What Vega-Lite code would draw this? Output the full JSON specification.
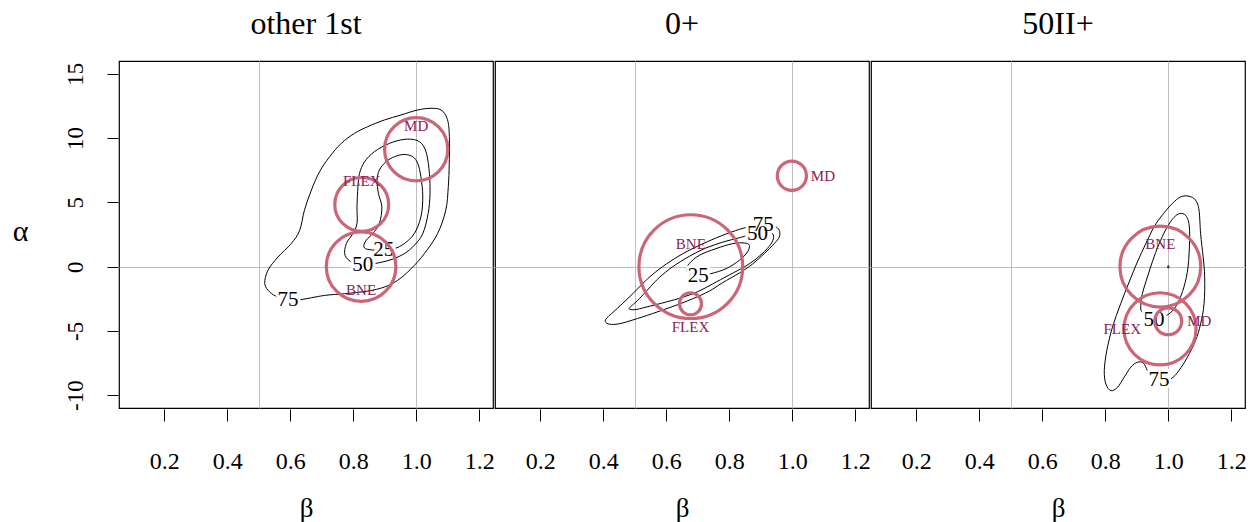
{
  "$schema": "https://vega.github.io/schema/vega-lite/v6.json",
  "background": "white",
  "padding": {"left": 12, "top": 8, "right": 5, "bottom": 3},
  "data": {
    "values": [
      {"kind": "contour", "panel": "other 1st", "level": 75, "seq": 1, "beta": 0.593, "alpha": -2.57},
      {"kind": "contour", "panel": "other 1st", "level": 75, "seq": 2, "beta": 0.630, "alpha": -2.58},
      {"kind": "contour", "panel": "other 1st", "level": 75, "seq": 3, "beta": 0.709, "alpha": -2.24},
      {"kind": "contour", "panel": "other 1st", "level": 75, "seq": 4, "beta": 0.772, "alpha": -2.11},
      {"kind": "contour", "panel": "other 1st", "level": 75, "seq": 5, "beta": 0.846, "alpha": -1.90},
      {"kind": "contour", "panel": "other 1st", "level": 75, "seq": 6, "beta": 0.899, "alpha": -1.59},
      {"kind": "contour", "panel": "other 1st", "level": 75, "seq": 7, "beta": 0.941, "alpha": -1.07},
      {"kind": "contour", "panel": "other 1st", "level": 75, "seq": 8, "beta": 0.984, "alpha": -0.16},
      {"kind": "contour", "panel": "other 1st", "level": 75, "seq": 9, "beta": 1.026, "alpha": 1.01},
      {"kind": "contour", "panel": "other 1st", "level": 75, "seq": 10, "beta": 1.068, "alpha": 2.57},
      {"kind": "contour", "panel": "other 1st", "level": 75, "seq": 11, "beta": 1.094, "alpha": 4.39},
      {"kind": "contour", "panel": "other 1st", "level": 75, "seq": 12, "beta": 1.102, "alpha": 6.21},
      {"kind": "contour", "panel": "other 1st", "level": 75, "seq": 13, "beta": 1.105, "alpha": 8.03},
      {"kind": "contour", "panel": "other 1st", "level": 75, "seq": 14, "beta": 1.105, "alpha": 10.37},
      {"kind": "contour", "panel": "other 1st", "level": 75, "seq": 15, "beta": 1.098, "alpha": 11.54},
      {"kind": "contour", "panel": "other 1st", "level": 75, "seq": 16, "beta": 1.079, "alpha": 12.19},
      {"kind": "contour", "panel": "other 1st", "level": 75, "seq": 17, "beta": 1.047, "alpha": 12.32},
      {"kind": "contour", "panel": "other 1st", "level": 75, "seq": 18, "beta": 1.005, "alpha": 12.19},
      {"kind": "contour", "panel": "other 1st", "level": 75, "seq": 19, "beta": 0.952, "alpha": 11.80},
      {"kind": "contour", "panel": "other 1st", "level": 75, "seq": 20, "beta": 0.899, "alpha": 11.41},
      {"kind": "contour", "panel": "other 1st", "level": 75, "seq": 21, "beta": 0.846, "alpha": 10.89},
      {"kind": "contour", "panel": "other 1st", "level": 75, "seq": 22, "beta": 0.804, "alpha": 10.37},
      {"kind": "contour", "panel": "other 1st", "level": 75, "seq": 23, "beta": 0.762, "alpha": 9.59},
      {"kind": "contour", "panel": "other 1st", "level": 75, "seq": 24, "beta": 0.725, "alpha": 8.55},
      {"kind": "contour", "panel": "other 1st", "level": 75, "seq": 25, "beta": 0.693, "alpha": 7.38},
      {"kind": "contour", "panel": "other 1st", "level": 75, "seq": 26, "beta": 0.667, "alpha": 5.95},
      {"kind": "contour", "panel": "other 1st", "level": 75, "seq": 27, "beta": 0.645, "alpha": 4.39},
      {"kind": "contour", "panel": "other 1st", "level": 75, "seq": 28, "beta": 0.630, "alpha": 2.83},
      {"kind": "contour", "panel": "other 1st", "level": 75, "seq": 29, "beta": 0.603, "alpha": 1.79},
      {"kind": "contour", "panel": "other 1st", "level": 75, "seq": 30, "beta": 0.561, "alpha": 0.75},
      {"kind": "contour", "panel": "other 1st", "level": 75, "seq": 31, "beta": 0.529, "alpha": -0.29},
      {"kind": "contour", "panel": "other 1st", "level": 75, "seq": 32, "beta": 0.519, "alpha": -1.33},
      {"kind": "contour", "panel": "other 1st", "level": 75, "seq": 33, "beta": 0.535, "alpha": -1.98},
      {"kind": "contour", "panel": "other 1st", "level": 75, "seq": 34, "beta": 0.561, "alpha": -2.37},

      {"kind": "contour", "panel": "other 1st", "level": 50, "seq": 1, "beta": 0.830, "alpha": 0.15},
      {"kind": "contour", "panel": "other 1st", "level": 50, "seq": 2, "beta": 0.867, "alpha": 0.23},
      {"kind": "contour", "panel": "other 1st", "level": 50, "seq": 3, "beta": 0.920, "alpha": 0.54},
      {"kind": "contour", "panel": "other 1st", "level": 50, "seq": 4, "beta": 0.962, "alpha": 1.01},
      {"kind": "contour", "panel": "other 1st", "level": 50, "seq": 5, "beta": 0.994, "alpha": 1.66},
      {"kind": "contour", "panel": "other 1st", "level": 50, "seq": 6, "beta": 1.021, "alpha": 2.57},
      {"kind": "contour", "panel": "other 1st", "level": 50, "seq": 7, "beta": 1.038, "alpha": 4.13},
      {"kind": "contour", "panel": "other 1st", "level": 50, "seq": 8, "beta": 1.044, "alpha": 5.69},
      {"kind": "contour", "panel": "other 1st", "level": 50, "seq": 9, "beta": 1.042, "alpha": 7.25},
      {"kind": "contour", "panel": "other 1st", "level": 50, "seq": 10, "beta": 1.034, "alpha": 8.68},
      {"kind": "contour", "panel": "other 1st", "level": 50, "seq": 11, "beta": 1.021, "alpha": 9.46},
      {"kind": "contour", "panel": "other 1st", "level": 50, "seq": 12, "beta": 0.999, "alpha": 9.85},
      {"kind": "contour", "panel": "other 1st", "level": 50, "seq": 13, "beta": 0.962, "alpha": 9.90},
      {"kind": "contour", "panel": "other 1st", "level": 50, "seq": 14, "beta": 0.915, "alpha": 9.59},
      {"kind": "contour", "panel": "other 1st", "level": 50, "seq": 15, "beta": 0.867, "alpha": 8.94},
      {"kind": "contour", "panel": "other 1st", "level": 50, "seq": 16, "beta": 0.836, "alpha": 8.16},
      {"kind": "contour", "panel": "other 1st", "level": 50, "seq": 17, "beta": 0.820, "alpha": 7.25},
      {"kind": "contour", "panel": "other 1st", "level": 50, "seq": 18, "beta": 0.815, "alpha": 6.21},
      {"kind": "contour", "panel": "other 1st", "level": 50, "seq": 19, "beta": 0.812, "alpha": 4.65},
      {"kind": "contour", "panel": "other 1st", "level": 50, "seq": 20, "beta": 0.812, "alpha": 3.35},
      {"kind": "contour", "panel": "other 1st", "level": 50, "seq": 21, "beta": 0.799, "alpha": 2.57},
      {"kind": "contour", "panel": "other 1st", "level": 50, "seq": 22, "beta": 0.778, "alpha": 1.79},
      {"kind": "contour", "panel": "other 1st", "level": 50, "seq": 23, "beta": 0.774, "alpha": 0.88},
      {"kind": "contour", "panel": "other 1st", "level": 50, "seq": 24, "beta": 0.799, "alpha": 0.28},

      {"kind": "contour", "panel": "other 1st", "level": 25, "seq": 1, "beta": 0.897, "alpha": 1.27},
      {"kind": "contour", "panel": "other 1st", "level": 25, "seq": 2, "beta": 0.931, "alpha": 1.40},
      {"kind": "contour", "panel": "other 1st", "level": 25, "seq": 3, "beta": 0.962, "alpha": 1.79},
      {"kind": "contour", "panel": "other 1st", "level": 25, "seq": 4, "beta": 0.994, "alpha": 2.57},
      {"kind": "contour", "panel": "other 1st", "level": 25, "seq": 5, "beta": 1.015, "alpha": 3.87},
      {"kind": "contour", "panel": "other 1st", "level": 25, "seq": 6, "beta": 1.021, "alpha": 5.43},
      {"kind": "contour", "panel": "other 1st", "level": 25, "seq": 7, "beta": 1.015, "alpha": 6.99},
      {"kind": "contour", "panel": "other 1st", "level": 25, "seq": 8, "beta": 1.005, "alpha": 8.03},
      {"kind": "contour", "panel": "other 1st", "level": 25, "seq": 9, "beta": 0.989, "alpha": 8.55},
      {"kind": "contour", "panel": "other 1st", "level": 25, "seq": 10, "beta": 0.962, "alpha": 8.73},
      {"kind": "contour", "panel": "other 1st", "level": 25, "seq": 11, "beta": 0.931, "alpha": 8.55},
      {"kind": "contour", "panel": "other 1st", "level": 25, "seq": 12, "beta": 0.904, "alpha": 8.16},
      {"kind": "contour", "panel": "other 1st", "level": 25, "seq": 13, "beta": 0.883, "alpha": 7.51},
      {"kind": "contour", "panel": "other 1st", "level": 25, "seq": 14, "beta": 0.876, "alpha": 6.73},
      {"kind": "contour", "panel": "other 1st", "level": 25, "seq": 15, "beta": 0.880, "alpha": 5.69},
      {"kind": "contour", "panel": "other 1st", "level": 25, "seq": 16, "beta": 0.891, "alpha": 4.65},
      {"kind": "contour", "panel": "other 1st", "level": 25, "seq": 17, "beta": 0.883, "alpha": 3.35},
      {"kind": "contour", "panel": "other 1st", "level": 25, "seq": 18, "beta": 0.862, "alpha": 2.57},
      {"kind": "contour", "panel": "other 1st", "level": 25, "seq": 19, "beta": 0.841, "alpha": 2.05},
      {"kind": "contour", "panel": "other 1st", "level": 25, "seq": 20, "beta": 0.834, "alpha": 1.53},
      {"kind": "contour", "panel": "other 1st", "level": 25, "seq": 21, "beta": 0.851, "alpha": 1.32},

      {"kind": "contour", "panel": "0+", "level": 75, "seq": 1, "beta": 0.908, "alpha": 3.22},
      {"kind": "contour", "panel": "0+", "level": 75, "seq": 2, "beta": 0.943, "alpha": 3.14},
      {"kind": "contour", "panel": "0+", "level": 75, "seq": 3, "beta": 0.959, "alpha": 2.83},
      {"kind": "contour", "panel": "0+", "level": 75, "seq": 4, "beta": 0.959, "alpha": 2.31},
      {"kind": "contour", "panel": "0+", "level": 75, "seq": 5, "beta": 0.943, "alpha": 1.79},
      {"kind": "contour", "panel": "0+", "level": 75, "seq": 6, "beta": 0.911, "alpha": 1.01},
      {"kind": "contour", "panel": "0+", "level": 75, "seq": 7, "beta": 0.874, "alpha": 0.20},
      {"kind": "contour", "panel": "0+", "level": 75, "seq": 8, "beta": 0.832, "alpha": -0.50},
      {"kind": "contour", "panel": "0+", "level": 75, "seq": 9, "beta": 0.779, "alpha": -1.25},
      {"kind": "contour", "panel": "0+", "level": 75, "seq": 10, "beta": 0.737, "alpha": -1.90},
      {"kind": "contour", "panel": "0+", "level": 75, "seq": 11, "beta": 0.684, "alpha": -2.50},
      {"kind": "contour", "panel": "0+", "level": 75, "seq": 12, "beta": 0.621, "alpha": -3.10},
      {"kind": "contour", "panel": "0+", "level": 75, "seq": 13, "beta": 0.557, "alpha": -3.65},
      {"kind": "contour", "panel": "0+", "level": 75, "seq": 14, "beta": 0.494, "alpha": -4.15},
      {"kind": "contour", "panel": "0+", "level": 75, "seq": 15, "beta": 0.450, "alpha": -4.45},
      {"kind": "contour", "panel": "0+", "level": 75, "seq": 16, "beta": 0.420, "alpha": -4.48},
      {"kind": "contour", "panel": "0+", "level": 75, "seq": 17, "beta": 0.406, "alpha": -4.25},
      {"kind": "contour", "panel": "0+", "level": 75, "seq": 18, "beta": 0.415, "alpha": -3.90},
      {"kind": "contour", "panel": "0+", "level": 75, "seq": 19, "beta": 0.431, "alpha": -3.55},
      {"kind": "contour", "panel": "0+", "level": 75, "seq": 20, "beta": 0.462, "alpha": -2.85},
      {"kind": "contour", "panel": "0+", "level": 75, "seq": 21, "beta": 0.494, "alpha": -2.10},
      {"kind": "contour", "panel": "0+", "level": 75, "seq": 22, "beta": 0.526, "alpha": -1.30},
      {"kind": "contour", "panel": "0+", "level": 75, "seq": 23, "beta": 0.557, "alpha": -0.60},
      {"kind": "contour", "panel": "0+", "level": 75, "seq": 24, "beta": 0.600, "alpha": 0.20},
      {"kind": "contour", "panel": "0+", "level": 75, "seq": 25, "beta": 0.652, "alpha": 1.00},
      {"kind": "contour", "panel": "0+", "level": 75, "seq": 26, "beta": 0.705, "alpha": 1.65},
      {"kind": "contour", "panel": "0+", "level": 75, "seq": 27, "beta": 0.760, "alpha": 2.25},
      {"kind": "contour", "panel": "0+", "level": 75, "seq": 28, "beta": 0.820, "alpha": 2.80},
      {"kind": "contour", "panel": "0+", "level": 75, "seq": 29, "beta": 0.870, "alpha": 3.15},

      {"kind": "contour", "panel": "0+", "level": 50, "seq": 1, "beta": 0.890, "alpha": 2.52},
      {"kind": "contour", "panel": "0+", "level": 50, "seq": 2, "beta": 0.922, "alpha": 2.70},
      {"kind": "contour", "panel": "0+", "level": 50, "seq": 3, "beta": 0.938, "alpha": 2.55},
      {"kind": "contour", "panel": "0+", "level": 50, "seq": 4, "beta": 0.940, "alpha": 2.15},
      {"kind": "contour", "panel": "0+", "level": 50, "seq": 5, "beta": 0.927, "alpha": 1.58},
      {"kind": "contour", "panel": "0+", "level": 50, "seq": 6, "beta": 0.895, "alpha": 0.80},
      {"kind": "contour", "panel": "0+", "level": 50, "seq": 7, "beta": 0.853, "alpha": 0.05},
      {"kind": "contour", "panel": "0+", "level": 50, "seq": 8, "beta": 0.800, "alpha": -0.65},
      {"kind": "contour", "panel": "0+", "level": 50, "seq": 9, "beta": 0.747, "alpha": -1.35},
      {"kind": "contour", "panel": "0+", "level": 50, "seq": 10, "beta": 0.700, "alpha": -1.95},
      {"kind": "contour", "panel": "0+", "level": 50, "seq": 11, "beta": 0.650, "alpha": -2.40},
      {"kind": "contour", "panel": "0+", "level": 50, "seq": 12, "beta": 0.600, "alpha": -2.75},
      {"kind": "contour", "panel": "0+", "level": 50, "seq": 13, "beta": 0.536, "alpha": -3.15},
      {"kind": "contour", "panel": "0+", "level": 50, "seq": 14, "beta": 0.500, "alpha": -3.35},
      {"kind": "contour", "panel": "0+", "level": 50, "seq": 15, "beta": 0.482, "alpha": -3.28},
      {"kind": "contour", "panel": "0+", "level": 50, "seq": 16, "beta": 0.490, "alpha": -3.05},
      {"kind": "contour", "panel": "0+", "level": 50, "seq": 17, "beta": 0.504, "alpha": -2.75},
      {"kind": "contour", "panel": "0+", "level": 50, "seq": 18, "beta": 0.526, "alpha": -2.20},
      {"kind": "contour", "panel": "0+", "level": 50, "seq": 19, "beta": 0.550, "alpha": -1.55},
      {"kind": "contour", "panel": "0+", "level": 50, "seq": 20, "beta": 0.580, "alpha": -0.80},
      {"kind": "contour", "panel": "0+", "level": 50, "seq": 21, "beta": 0.621, "alpha": 0.00},
      {"kind": "contour", "panel": "0+", "level": 50, "seq": 22, "beta": 0.673, "alpha": 0.80},
      {"kind": "contour", "panel": "0+", "level": 50, "seq": 23, "beta": 0.726, "alpha": 1.45},
      {"kind": "contour", "panel": "0+", "level": 50, "seq": 24, "beta": 0.779, "alpha": 1.90},
      {"kind": "contour", "panel": "0+", "level": 50, "seq": 25, "beta": 0.832, "alpha": 2.25},
      {"kind": "contour", "panel": "0+", "level": 50, "seq": 26, "beta": 0.862, "alpha": 2.42},

      {"kind": "contour", "panel": "0+", "level": 25, "seq": 1, "beta": 0.702, "alpha": -0.76},
      {"kind": "contour", "panel": "0+", "level": 25, "seq": 2, "beta": 0.742, "alpha": -0.55},
      {"kind": "contour", "panel": "0+", "level": 25, "seq": 3, "beta": 0.790, "alpha": -0.16},
      {"kind": "contour", "panel": "0+", "level": 25, "seq": 4, "beta": 0.832, "alpha": 0.49},
      {"kind": "contour", "panel": "0+", "level": 25, "seq": 5, "beta": 0.858, "alpha": 1.14},
      {"kind": "contour", "panel": "0+", "level": 25, "seq": 6, "beta": 0.864, "alpha": 1.66},
      {"kind": "contour", "panel": "0+", "level": 25, "seq": 7, "beta": 0.848, "alpha": 1.84},
      {"kind": "contour", "panel": "0+", "level": 25, "seq": 8, "beta": 0.811, "alpha": 1.79},
      {"kind": "contour", "panel": "0+", "level": 25, "seq": 9, "beta": 0.758, "alpha": 1.40},
      {"kind": "contour", "panel": "0+", "level": 25, "seq": 10, "beta": 0.705, "alpha": 0.88},
      {"kind": "contour", "panel": "0+", "level": 25, "seq": 11, "beta": 0.673, "alpha": 0.23},
      {"kind": "contour", "panel": "0+", "level": 25, "seq": 12, "beta": 0.665, "alpha": -0.29},
      {"kind": "contour", "panel": "0+", "level": 25, "seq": 13, "beta": 0.673, "alpha": -0.50},

      {"kind": "contour", "panel": "50II+", "level": 75, "seq": 1, "beta": 0.971, "alpha": -8.82},
      {"kind": "contour", "panel": "50II+", "level": 75, "seq": 2, "beta": 1.008, "alpha": -8.74},
      {"kind": "contour", "panel": "50II+", "level": 75, "seq": 3, "beta": 1.034, "alpha": -8.09},
      {"kind": "contour", "panel": "50II+", "level": 75, "seq": 4, "beta": 1.061, "alpha": -7.05},
      {"kind": "contour", "panel": "50II+", "level": 75, "seq": 5, "beta": 1.087, "alpha": -5.75},
      {"kind": "contour", "panel": "50II+", "level": 75, "seq": 6, "beta": 1.103, "alpha": -4.45},
      {"kind": "contour", "panel": "50II+", "level": 75, "seq": 7, "beta": 1.114, "alpha": -2.89},
      {"kind": "contour", "panel": "50II+", "level": 75, "seq": 8, "beta": 1.116, "alpha": -0.81},
      {"kind": "contour", "panel": "50II+", "level": 75, "seq": 9, "beta": 1.111, "alpha": 0.75},
      {"kind": "contour", "panel": "50II+", "level": 75, "seq": 10, "beta": 1.103, "alpha": 2.57},
      {"kind": "contour", "panel": "50II+", "level": 75, "seq": 11, "beta": 1.098, "alpha": 4.39},
      {"kind": "contour", "panel": "50II+", "level": 75, "seq": 12, "beta": 1.087, "alpha": 5.17},
      {"kind": "contour", "panel": "50II+", "level": 75, "seq": 13, "beta": 1.066, "alpha": 5.48},
      {"kind": "contour", "panel": "50II+", "level": 75, "seq": 14, "beta": 1.040, "alpha": 5.43},
      {"kind": "contour", "panel": "50II+", "level": 75, "seq": 15, "beta": 1.013, "alpha": 4.91},
      {"kind": "contour", "panel": "50II+", "level": 75, "seq": 16, "beta": 0.981, "alpha": 4.00},
      {"kind": "contour", "panel": "50II+", "level": 75, "seq": 17, "beta": 0.955, "alpha": 3.09},
      {"kind": "contour", "panel": "50II+", "level": 75, "seq": 18, "beta": 0.929, "alpha": 1.79},
      {"kind": "contour", "panel": "50II+", "level": 75, "seq": 19, "beta": 0.902, "alpha": 0.36},
      {"kind": "contour", "panel": "50II+", "level": 75, "seq": 20, "beta": 0.876, "alpha": -1.20},
      {"kind": "contour", "panel": "50II+", "level": 75, "seq": 21, "beta": 0.849, "alpha": -2.89},
      {"kind": "contour", "panel": "50II+", "level": 75, "seq": 22, "beta": 0.823, "alpha": -4.71},
      {"kind": "contour", "panel": "50II+", "level": 75, "seq": 23, "beta": 0.805, "alpha": -6.53},
      {"kind": "contour", "panel": "50II+", "level": 75, "seq": 24, "beta": 0.797, "alpha": -8.09},
      {"kind": "contour", "panel": "50II+", "level": 75, "seq": 25, "beta": 0.802, "alpha": -9.13},
      {"kind": "contour", "panel": "50II+", "level": 75, "seq": 26, "beta": 0.818, "alpha": -9.65},
      {"kind": "contour", "panel": "50II+", "level": 75, "seq": 27, "beta": 0.839, "alpha": -9.39},
      {"kind": "contour", "panel": "50II+", "level": 75, "seq": 28, "beta": 0.860, "alpha": -8.61},
      {"kind": "contour", "panel": "50II+", "level": 75, "seq": 29, "beta": 0.881, "alpha": -7.83},
      {"kind": "contour", "panel": "50II+", "level": 75, "seq": 30, "beta": 0.902, "alpha": -7.44},
      {"kind": "contour", "panel": "50II+", "level": 75, "seq": 31, "beta": 0.921, "alpha": -7.49},
      {"kind": "contour", "panel": "50II+", "level": 75, "seq": 32, "beta": 0.934, "alpha": -8.09},
      {"kind": "contour", "panel": "50II+", "level": 75, "seq": 33, "beta": 0.945, "alpha": -8.48},

      {"kind": "contour", "panel": "50II+", "level": 50, "seq": 1, "beta": 0.955, "alpha": -4.14},
      {"kind": "contour", "panel": "50II+", "level": 50, "seq": 2, "beta": 1.003, "alpha": -3.67},
      {"kind": "contour", "panel": "50II+", "level": 50, "seq": 3, "beta": 1.029, "alpha": -2.89},
      {"kind": "contour", "panel": "50II+", "level": 50, "seq": 4, "beta": 1.050, "alpha": -1.59},
      {"kind": "contour", "panel": "50II+", "level": 50, "seq": 5, "beta": 1.063, "alpha": -0.03},
      {"kind": "contour", "panel": "50II+", "level": 50, "seq": 6, "beta": 1.068, "alpha": 2.05},
      {"kind": "contour", "panel": "50II+", "level": 50, "seq": 7, "beta": 1.066, "alpha": 3.35},
      {"kind": "contour", "panel": "50II+", "level": 50, "seq": 8, "beta": 1.055, "alpha": 4.00},
      {"kind": "contour", "panel": "50II+", "level": 50, "seq": 9, "beta": 1.037, "alpha": 4.13},
      {"kind": "contour", "panel": "50II+", "level": 50, "seq": 10, "beta": 1.018, "alpha": 3.82},
      {"kind": "contour", "panel": "50II+", "level": 50, "seq": 11, "beta": 0.997, "alpha": 3.09},
      {"kind": "contour", "panel": "50II+", "level": 50, "seq": 12, "beta": 0.976, "alpha": 2.05},
      {"kind": "contour", "panel": "50II+", "level": 50, "seq": 13, "beta": 0.955, "alpha": 0.75},
      {"kind": "contour", "panel": "50II+", "level": 50, "seq": 14, "beta": 0.934, "alpha": -0.81},
      {"kind": "contour", "panel": "50II+", "level": 50, "seq": 15, "beta": 0.918, "alpha": -2.11},
      {"kind": "contour", "panel": "50II+", "level": 50, "seq": 16, "beta": 0.913, "alpha": -3.02},
      {"kind": "contour", "panel": "50II+", "level": 50, "seq": 17, "beta": 0.918, "alpha": -3.54},

      {"kind": "contour", "panel": "50II+", "level": 25, "seq": 1, "beta": 0.998, "alpha": -0.07},
      {"kind": "contour", "panel": "50II+", "level": 25, "seq": 2, "beta": 1.003, "alpha": -0.07},
      {"kind": "contour", "panel": "50II+", "level": 25, "seq": 3, "beta": 1.000, "alpha": 0.09},

      {"kind": "contourLabel", "panel": "other 1st", "level": 25, "beta": 0.897, "alpha": 1.27},
      {"kind": "contourLabel", "panel": "other 1st", "level": 50, "beta": 0.830, "alpha": 0.15},
      {"kind": "contourLabel", "panel": "other 1st", "level": 75, "beta": 0.593, "alpha": -2.57},
      {"kind": "contourLabel", "panel": "0+", "level": 25, "beta": 0.702, "alpha": -0.76},
      {"kind": "contourLabel", "panel": "0+", "level": 50, "beta": 0.890, "alpha": 2.52},
      {"kind": "contourLabel", "panel": "0+", "level": 75, "beta": 0.908, "alpha": 3.22},
      {"kind": "contourLabel", "panel": "50II+", "level": 50, "beta": 0.955, "alpha": -4.14},
      {"kind": "contourLabel", "panel": "50II+", "level": 75, "beta": 0.971, "alpha": -8.82},

      {"kind": "strategy", "panel": "other 1st", "strategy": "MD", "beta": 1.000, "alpha": 9.13, "share": 33},
      {"kind": "strategy", "panel": "other 1st", "strategy": "FLEX", "beta": 0.827, "alpha": 4.84, "share": 24},
      {"kind": "strategy", "panel": "other 1st", "strategy": "BNE", "beta": 0.825, "alpha": 0.00, "share": 40},
      {"kind": "strategy", "panel": "0+", "strategy": "BNE", "beta": 0.678, "alpha": 0.00, "share": 89},
      {"kind": "strategy", "panel": "0+", "strategy": "FLEX", "beta": 0.677, "alpha": -2.89, "share": 4},
      {"kind": "strategy", "panel": "0+", "strategy": "MD", "beta": 0.999, "alpha": 7.07, "share": 7},
      {"kind": "strategy", "panel": "50II+", "strategy": "BNE", "beta": 0.975, "alpha": 0.00, "share": 54},
      {"kind": "strategy", "panel": "50II+", "strategy": "FLEX", "beta": 0.974, "alpha": -4.84, "share": 43},
      {"kind": "strategy", "panel": "50II+", "strategy": "MD", "beta": 1.000, "alpha": -4.25, "share": 6}
    ]
  },
  "facet": {
    "column": {
      "field": "panel",
      "type": "nominal",
      "sort": ["other 1st", "0+", "50II+"],
      "header": {
        "title": null,
        "labelFont": "Liberation Serif",
        "labelFontSize": 32,
        "labelColor": "black",
        "labelPadding": 19
      }
    }
  },
  "spacing": 0,
  "spec": {
    "width": 374,
    "height": 347,
    "resolve": {"axis": {"x": "independent", "y": "independent"}},
    "layer": [
      {
        "transform": [{"filter": "datum.kind === 'contour'"}],
        "mark": {"type": "line", "interpolate": "cardinal-closed", "stroke": "black", "strokeWidth": 1},
        "encoding": {
          "x": {
            "field": "beta", "type": "quantitative",
            "scale": {"domain": [0.056, 1.244], "nice": false, "zero": false},
            "axis": {"values": [0.5, 1], "grid": true, "gridColor": "#bebebe", "gridWidth": 1, "ticks": false, "labels": false, "domain": false, "title": null, "orient": "bottom"}
          },
          "y": {
            "field": "alpha", "type": "quantitative",
            "scale": {"domain": [-11, 16], "nice": false, "zero": false},
            "axis": {"values": [0], "grid": true, "gridColor": "#bebebe", "gridWidth": 1, "ticks": false, "labels": false, "domain": false, "title": null, "orient": "left"}
          },
          "detail": {"field": "level", "type": "nominal"},
          "order": {"field": "seq", "type": "quantitative"}
        }
      },
      {
        "transform": [{"filter": "datum.kind === 'contourLabel'"}],
        "mark": {"type": "text", "font": "Liberation Serif", "fontSize": 21, "baseline": "middle", "fill": "white", "stroke": "white", "strokeWidth": 6, "strokeJoin": "round"},
        "encoding": {
          "x": {
            "field": "beta", "type": "quantitative",
            "axis": {
              "values": [0.2, 0.4, 0.6, 0.8, 1.0, 1.2], "format": ".1f", "grid": false, "domain": false,
              "tickSize": 12, "tickColor": "black", "tickWidth": 1,
              "labelFont": "Liberation Serif", "labelFontSize": 24, "labelColor": "black", "labelBaseline": "alphabetic", "labelPadding": 47, "labelFlush": false, "labelOverlap": false,
              "title": "β", "titleFont": "Liberation Serif", "titleFontSize": 27, "titleFontWeight": "normal", "titleColor": "black",
              "titleX": 187, "titleY": 99, "titleAlign": "center", "titleBaseline": "middle", "orient": "bottom"
            }
          },
          "y": {
            "field": "alpha", "type": "quantitative",
            "axis": {
              "values": [-10, -5, 0, 5, 10, 15], "labelExpr": "'' + datum.value", "grid": false, "domain": false,
              "tickSize": 11, "tickColor": "black", "tickWidth": 1,
              "labelFont": "Liberation Serif", "labelFontSize": 23, "labelColor": "black", "labelAngle": 270, "labelAlign": "center", "labelBaseline": "alphabetic", "labelPadding": 25, "labelFlush": false, "labelOverlap": false,
              "title": "α", "titleFont": "Liberation Serif", "titleFontSize": 30, "titleFontWeight": "normal", "titleColor": "black", "titleAngle": 0,
              "titleX": -98, "titleY": 170, "titleAlign": "center", "titleBaseline": "middle", "orient": "left"
            }
          },
          "text": {"field": "level", "type": "quantitative"}
        }
      },
      {
        "transform": [{"filter": "datum.kind === 'contourLabel'"}],
        "mark": {"type": "text", "font": "Liberation Serif", "fontSize": 21, "baseline": "middle", "fill": "black"},
        "encoding": {
          "x": {"field": "beta", "type": "quantitative", "axis": null},
          "y": {"field": "alpha", "type": "quantitative", "axis": null},
          "text": {"field": "level", "type": "quantitative"}
        }
      },
      {
        "transform": [{"filter": "datum.kind === 'strategy'"}],
        "mark": {"type": "point", "shape": "circle", "filled": false, "stroke": "#CC6677", "strokeWidth": 3.2, "opacity": 1},
        "encoding": {
          "x": {"field": "beta", "type": "quantitative", "axis": null},
          "y": {"field": "alpha", "type": "quantitative", "axis": null},
          "size": {"field": "share", "type": "quantitative", "scale": {"domain": [0, 100], "range": [0, 12100]}, "legend": null}
        }
      },
      {
        "transform": [{"filter": "datum.kind === 'strategy' && ((datum.panel === 'other 1st' && datum.strategy !== 'BNE') || (datum.panel !== 'other 1st' && datum.strategy === 'BNE'))"}],
        "mark": {"type": "text", "font": "Liberation Serif", "fontSize": 15, "fill": "#882255", "align": "center", "baseline": "middle", "dy": -23},
        "encoding": {
          "x": {"field": "beta", "type": "quantitative", "axis": null},
          "y": {"field": "alpha", "type": "quantitative", "axis": null},
          "text": {"field": "strategy"}
        }
      },
      {
        "transform": [{"filter": "datum.kind === 'strategy' && ((datum.panel === 'other 1st' && datum.strategy === 'BNE') || (datum.panel === '0+' && datum.strategy === 'FLEX'))"}],
        "mark": {"type": "text", "font": "Liberation Serif", "fontSize": 15, "fill": "#882255", "align": "center", "baseline": "middle", "dy": 23},
        "encoding": {
          "x": {"field": "beta", "type": "quantitative", "axis": null},
          "y": {"field": "alpha", "type": "quantitative", "axis": null},
          "text": {"field": "strategy"}
        }
      },
      {
        "transform": [{"filter": "datum.kind === 'strategy' && datum.panel !== 'other 1st' && datum.strategy === 'MD'"}],
        "mark": {"type": "text", "font": "Liberation Serif", "fontSize": 15, "fill": "#882255", "align": "left", "baseline": "middle", "dx": 19},
        "encoding": {
          "x": {"field": "beta", "type": "quantitative", "axis": null},
          "y": {"field": "alpha", "type": "quantitative", "axis": null},
          "text": {"field": "strategy"}
        }
      },
      {
        "transform": [{"filter": "datum.kind === 'strategy' && datum.panel === '50II+' && datum.strategy === 'FLEX'"}],
        "mark": {"type": "text", "font": "Liberation Serif", "fontSize": 15, "fill": "#882255", "align": "right", "baseline": "middle", "dx": -19},
        "encoding": {
          "x": {"field": "beta", "type": "quantitative", "axis": null},
          "y": {"field": "alpha", "type": "quantitative", "axis": null},
          "text": {"field": "strategy"}
        }
      }
    ]
  },
  "config": {
    "font": "Liberation Serif",
    "view": {"stroke": "black", "strokeWidth": 1.2},
    "axis": {"grid": false, "domain": false}
  }
}
